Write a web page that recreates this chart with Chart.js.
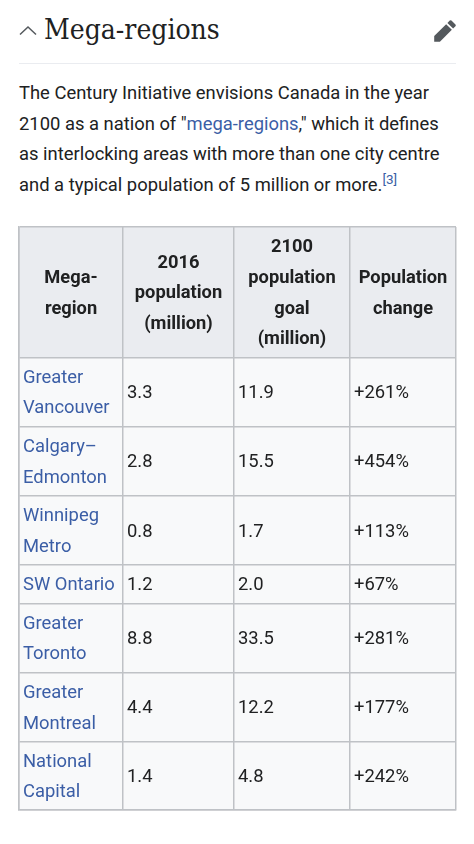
<!DOCTYPE html>
<html>
<head>
<meta charset="utf-8">
<title>Mega-regions</title>
<script src="https://cdn.jsdelivr.net/npm/chart.js@4/dist/chart.umd.min.js"></script>
<style>
	html, body { margin: 0; padding: 0; background: #fff; }
	body { width: 474px; height: 844px; position: relative; overflow: hidden; color: #202122; font-family: Roboto, sans-serif; }
	#chevron { position: absolute; left: 17px; top: 22px; }
	#edit { position: absolute; left: 433px; top: 19px; }
	h2 { position: absolute; left: 44px; top: 10px; margin: 0; font: 400 28px/40px "DejaVu Serif Condensed", "DejaVu Serif", serif; white-space: nowrap; }
	#rule { position: absolute; left: 19px; top: 63px; width: 437px; height: 1px; background: #eaecf0; }
	p { position: absolute; left: 19px; top: 78px; margin: 0; font-size: 18.4px; line-height: 30.6px; white-space: nowrap; }
	a { color: #3b5ea6; text-decoration: none; }
	sup { font-size: 13.5px; line-height: 0; }
	#table-wrap { position: absolute; left: 18px; top: 226px; width: 439px; height: 585px; }
</style>
</head>
<body>
<svg id="chevron" width="20" height="20" viewBox="0 0 20 20"><polyline points="3,12.5 11,5 19,12.5" fill="none" stroke="#54595d" stroke-width="1.5"/></svg>
<h2>Mega-regions</h2>
<svg id="edit" width="24" height="24" viewBox="0 0 20 20"><path fill="#54595d" d="M16.77 8l1.94-2a1 1 0 0 0 0-1.41l-3.34-3.3a1 1 0 0 0-1.41 0L12 3.23zM1 14.25V19h4.75l9.96-9.96-4.75-4.75z"/></svg>
<div id="rule"></div>
<p>The Century Initiative envisions Canada in the year<br>2100 as a nation of "<a href="#">mega-regions</a>," which it defines<br>as interlocking areas with more than one city centre<br>and a typical population of 5 million or more.<sup><a href="#">[3]</a></sup></p>
<div id="table-wrap"><canvas id="chart" width="439" height="585"></canvas></div>
<script>
const headers = [
	["Mega-", "region"],
	["2016", "population", "(million)"],
	["2100", "population", "goal", "(million)"],
	["Population", "change"],
];
const regions = [
	["Greater", "Vancouver"],
	["Calgary–", "Edmonton"],
	["Winnipeg", "Metro"],
	["SW Ontario"],
	["Greater", "Toronto"],
	["Greater", "Montreal"],
	["National", "Capital"],
];
const pop2016 = ["3.3", "2.8", "0.8", "1.2", "8.8", "4.4", "1.4"];
const pop2100 = ["11.9", "15.5", "1.7", "2.0", "33.5", "12.2", "4.8"];
const popChange = ["+261%", "+454%", "+113%", "+67%", "+281%", "+177%", "+242%"];

// table layout, kept apart from the values
const colWidths = [104, 111, 116, 106];
const rowHeights = [130, 69, 69, 69, 38, 69, 69, 68];
const lineHeight = 30.6;
const cellPad = 4;
const textDrop = 1.5;
const font = "Roboto, sans-serif";
const textColor = "#202122";
const linkColor = "#3b5ea6";
const lineColor = "#bfc2c6";

const edges = (sizes) => {
	const out = [0];
	sizes.forEach((s) => out.push(out[out.length - 1] + s));
	return out;
};
const colEdges = edges(colWidths);
const rowEdges = edges(rowHeights);

const toPoints = (col, values) =>
	values.map((v, i) => ({ x: colEdges[col], y: (rowEdges[i + 1] + rowEdges[i + 2]) / 2, text: v }));

const tablePlugin = {
	id: "tablePlugin",
	beforeDraw(chart) {
		const { ctx, scales, chartArea } = chart;
		const headBottom = scales.y.getPixelForValue(rowEdges[1]);
		ctx.save();
		ctx.fillStyle = "#eaecf0";
		ctx.fillRect(chartArea.left, chartArea.top, chartArea.width, headBottom - chartArea.top);
		ctx.fillStyle = "#f8f9fa";
		ctx.fillRect(chartArea.left, headBottom, chartArea.width, chartArea.bottom - headBottom);
		ctx.restore();
	},
	afterDatasetsDraw(chart) {
		const { ctx, scales } = chart;
		const { x, y } = scales;
		ctx.save();
		ctx.textBaseline = "middle";

		// header row
		ctx.font = `700 18.3px ${font}`;
		ctx.fillStyle = textColor;
		ctx.textAlign = "center";
		headers.forEach((lines, c) => {
			const cx = x.getPixelForValue((colEdges[c] + colEdges[c + 1]) / 2);
			const cy = y.getPixelForValue(rowEdges[1] / 2) + textDrop;
			lines.forEach((line, n) => {
				ctx.fillText(line, cx, cy + (n - (lines.length - 1) / 2) * lineHeight);
			});
		});

		// region names and values
		ctx.font = `400 18.4px ${font}`;
		ctx.textAlign = "left";
		chart.data.datasets.forEach((ds) => {
			ctx.fillStyle = ds.textColor;
			ds.data.forEach((pt) => {
				const px = x.getPixelForValue(pt.x) + cellPad;
				const py = y.getPixelForValue(pt.y) + textDrop;
				const lines = [].concat(pt.text);
				lines.forEach((line, n) => {
					ctx.fillText(line, px, py + (n - (lines.length - 1) / 2) * lineHeight);
				});
			});
		});
		ctx.restore();
	},
};

const axis = (edgeList, reverse) => ({
	type: "linear",
	reverse,
	min: 0,
	max: edgeList[edgeList.length - 1],
	afterBuildTicks: (scale) => {
		scale.ticks = edgeList.map((value) => ({ value }));
	},
	ticks: { display: false },
	grid: { color: lineColor, lineWidth: 1.5, drawTicks: false },
	border: { color: lineColor, width: 1.5 },
});

new Chart(document.getElementById("chart").getContext("2d"), {
	type: "scatter",
	data: {
		datasets: [
			{ label: "Mega-region", data: toPoints(0, regions), textColor: linkColor, pointRadius: 0 },
			{ label: "2016 population (million)", data: toPoints(1, pop2016), textColor, pointRadius: 0 },
			{ label: "2100 population goal (million)", data: toPoints(2, pop2100), textColor, pointRadius: 0 },
			{ label: "Population change", data: toPoints(3, popChange), textColor, pointRadius: 0 },
		],
	},
	options: {
		responsive: false,
		animation: false,
		events: [],
		layout: { padding: 1 },
		plugins: { legend: { display: false }, tooltip: { enabled: false } },
		scales: { x: axis(colEdges, false), y: axis(rowEdges, true) },
	},
	plugins: [tablePlugin],
});
</script>
</body>
</html>
